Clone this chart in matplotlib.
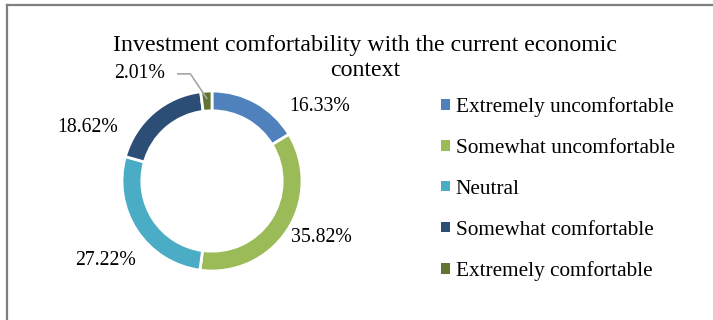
import matplotlib
matplotlib.use("Agg")
import matplotlib.pyplot as plt
from matplotlib.lines import Line2D
from matplotlib.patches import Patch
import numpy as np

categories = ['Extremely uncomfortable', 'Somewhat uncomfortable', 'Neutral',
              'Somewhat comfortable', 'Extremely comfortable']
shares = [16.33, 35.82, 27.22, 18.62, 2.01]
colors = ['#4F81BD', '#9BBB59', '#4BACC6', '#2C4D75', '#5F7530']
title_lines = ['Investment comfortability with the current economic', 'context']

# where Excel put the data labels (in units of the outer radius)
label_xy = [(1.20, 0.83), (1.21, -0.63), (-1.18, -0.88), (-1.38, 0.59), (-0.80, 1.19)]

plt.rcParams['font.family'] = 'Liberation Serif'

fig = plt.figure(figsize=(7.13, 3.2), dpi=100)
W, H = 713.0, 320.0

# border (only top and left visible in the crop)
fig.add_artist(Line2D([6.5 / W, 6.5 / W], [0, 1 - 5.0 / H], transform=fig.transFigure,
                      color='#7f7f7f', lw=1.6))
fig.add_artist(Line2D([6.5 / W, 1], [1 - 5.0 / H, 1 - 5.0 / H], transform=fig.transFigure,
                      color='#7f7f7f', lw=1.6))

# title, one text per line
for i, line in enumerate(title_lines):
    fig.text(365 / W, 1 - (45 + 25 * i) / H, line, ha='center', va='center',
             fontsize=17.2)

cx, cy, R = 212.0, 320 - 181.0, 90.0
half = 150.0
ax = fig.add_axes([(cx - half) / W, (cy - half) / H, 2 * half / W, 2 * half / H])
wedges, _ = ax.pie(shares, colors=colors, startangle=90, counterclock=False,
                   radius=1.0,
                   wedgeprops=dict(width=0.22, edgecolor='white', linewidth=2))
lim = half / R
ax.set_xlim(-lim, lim)
ax.set_ylim(-lim, lim)
ax.set_aspect('equal')
ax.axis('off')

for v, (x, y) in zip(shares, label_xy):
    ax.text(x, y, '%.2f%%' % v, ha='center', va='center', fontsize=14.2)

# leader line for the small slice
w = wedges[-1]
mid = np.deg2rad((w.theta1 + w.theta2) / 2)
ex, ey = 0.92 * np.cos(mid), 0.92 * np.sin(mid)
ax.plot([-0.38, -0.24, ex], [1.19, 1.19, ey], color='#a6a6a6', lw=1.2,
        clip_on=False)

handles = [Patch(facecolor=c, edgecolor='none') for c in colors]
fig.legend(handles, categories, loc='upper left', bbox_to_anchor=(441 / W, 1 - 97 / H),
           frameon=False, fontsize=15.3, handlelength=0.4, handleheight=0.4,
           handletextpad=0.3, labelspacing=1.03, borderaxespad=0, borderpad=0)

fig.savefig('out.png', dpi=100)
